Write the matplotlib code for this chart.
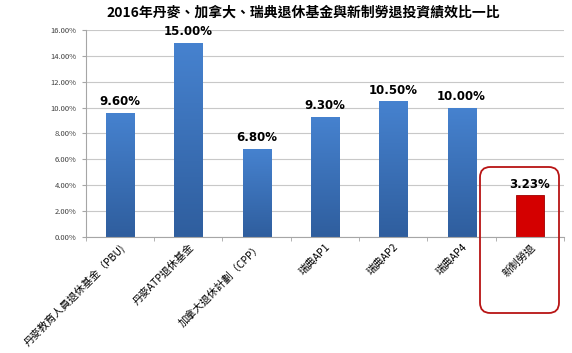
import numpy as np
import matplotlib.pyplot as plt
from matplotlib.patches import FancyBboxPatch
from matplotlib.ticker import FuncFormatter

plt.rcParams['font.family'] = ['Noto Sans CJK TC', 'DejaVu Sans']

names  = ['丹麥教育人員退休基金（PBU)', '丹麥ATP退休基金', '加拿大退休計劃（CPP）',
          '瑞典AP1', '瑞典AP2', '瑞典AP4', '新制勞退']
values = [9.60, 15.00, 6.80, 9.30, 10.50, 10.00, 3.23]
labels = ['9.60%', '15.00%', '6.80%', '9.30%', '10.50%', '10.00%', '3.23%']

fig = plt.figure(figsize=(5.72, 3.53), dpi=100)
ax  = fig.add_axes([0.150, 0.329, 0.836, 0.586])

x = np.arange(len(values))
colors = ['#3A74C0'] * 6 + ['#D40000']
edges  = ['#2B5A96'] * 6 + ['#A00000']
bars = ax.bar(x, values, width=0.41, color=colors, edgecolor=edges, linewidth=0.6, zorder=2)

# vertical gradient on the blue bars
grad = np.linspace(0, 1, 100).reshape(-1, 1)
cmap = plt.matplotlib.colors.LinearSegmentedColormap.from_list('g', ['#2F5E9E', '#4682CF'])
for b, v in zip(bars[:6], values[:6]):
    x0 = b.get_x(); w = b.get_width()
    im = ax.imshow(grad, extent=[x0, x0 + w, 0, v], aspect='auto', origin='lower',
                   cmap=cmap, zorder=2.5)
    im.set_clip_path(b)

for xi, v, t in zip(x, values, labels):
    ax.text(xi, v + 0.35, t, ha='center', va='bottom', fontsize=8.5,
            fontweight='bold', color='black', family=['DejaVu Sans'])

ax.set_xlim(-0.5, len(values) - 0.5)
ax.set_ylim(0, 16)
ax.set_yticks(np.arange(0, 16.1, 2))
ax.yaxis.set_major_formatter(FuncFormatter(lambda v, p: '%.2f%%' % v))
ax.grid(axis='y', color='#C8C8C8', linewidth=0.8, zorder=0)
ax.set_axisbelow(True)
for s in ['top', 'right']:
    ax.spines[s].set_visible(False)
ax.spines['left'].set_color('#A6A6A6')
ax.spines['bottom'].set_color('#A6A6A6')
ax.tick_params(axis='y', labelsize=5.5, labelcolor='#404040', color='#A6A6A6', length=3)
ax.set_xticks(np.arange(-0.5, len(values), 1), minor=True)
ax.tick_params(axis='x', which='major', length=0)
ax.tick_params(axis='x', which='minor', length=3, color='#A6A6A6')
ax.set_xticks(x)
ax.set_xticklabels(names, rotation=45, ha='right', rotation_mode='anchor', fontsize=7.5)

fig.suptitle('2016年丹麥、加拿大、瑞典退休基金與新制勞退投資績效比一比',
             x=0.53, y=0.985, fontsize=10, fontweight='bold')

# rounded highlight box around the last category
box = FancyBboxPatch((480 / 572, 1 - 313 / 353), 79 / 572, 146 / 353,
                     boxstyle='round,pad=0,rounding_size=0.018', transform=fig.transFigure,
                     mutation_aspect=572 / 353,
                     fill=False, edgecolor='#B81414', linewidth=1.3)
fig.patches.append(box)

fig.savefig('out.png', dpi=100)
